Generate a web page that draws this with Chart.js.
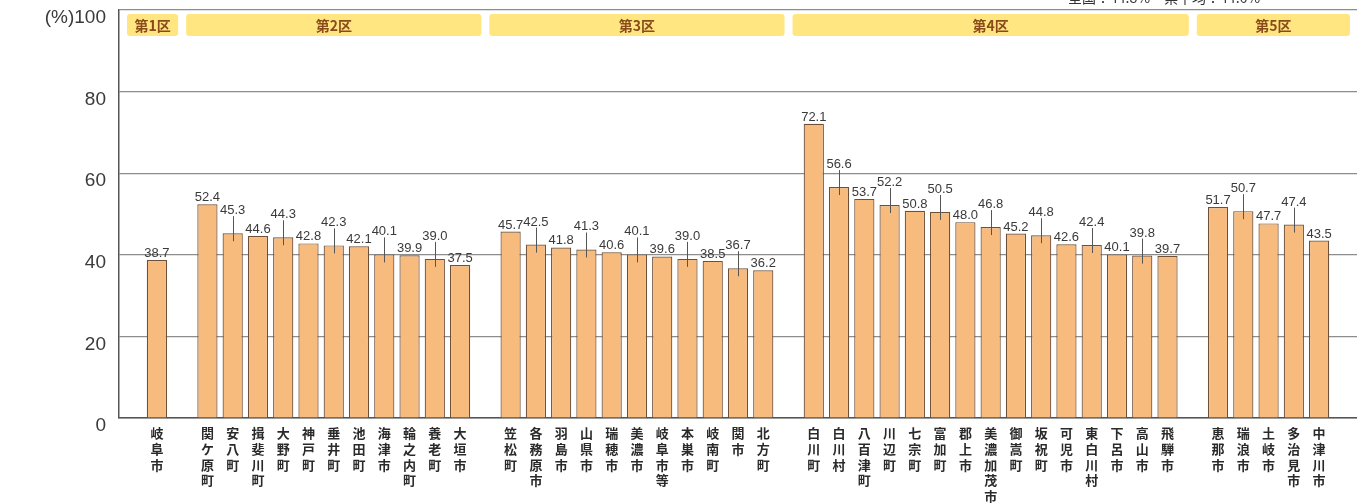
<!DOCTYPE html>
<html><head><meta charset="utf-8">
<script src="https://cdn.jsdelivr.net/npm/chart.js@4.4.1/dist/chart.umd.min.js"></script>
<style>html,body{margin:0;padding:0;background:#fff;}#wrap{width:1357px;height:503px;position:relative;}</style>
</head><body><div id="wrap"><canvas id="c" width="1357" height="503"></canvas></div>
<script>
const districtNames = ['第1区','第2区','第3区','第4区','第5区'];
const d1Names = ['岐阜市'];
const d1Values = [38.7];
const d2Names = ['関ケ原町','安八町','揖斐川町','大野町','神戸町','垂井町','池田町','海津市','輪之内町','養老町','大垣市'];
const d2Values = [52.4,45.3,44.6,44.3,42.8,42.3,42.1,40.1,39.9,39.0,37.5];
const d3Names = ['笠松町','各務原市','羽島市','山県市','瑞穂市','美濃市','岐阜市等','本巣市','岐南町','関市','北方町'];
const d3Values = [45.7,42.5,41.8,41.3,40.6,40.1,39.6,39.0,38.5,36.7,36.2];
const d4Names = ['白川町','白川村','八百津町','川辺町','七宗町','富加町','郡上市','美濃加茂市','御嵩町','坂祝町','可児市','東白川村','下呂市','高山市','飛騨市'];
const d4Values = [72.1,56.6,53.7,52.2,50.8,50.5,48.0,46.8,45.2,44.8,42.6,42.4,40.1,39.8,39.7];
const d5Names = ['恵那市','瑞浪市','土岐市','多治見市','中津川市'];
const d5Values = [51.7,50.7,47.7,47.4,43.5];
const yTicks = [0,20,40,60,80,100];
const topNote = '全国：44.8%　県平均：44.6%';

// build combined arrays (empty slot before each district)
const groupNames = [d1Names,d2Names,d3Names,d4Names,d5Names];
const groupValues = [d1Values,d2Values,d3Values,d4Values,d5Values];
const categories = [], values = [], idxInGroup = [];
const groupRanges = [];
groupNames.forEach((names,g)=>{
  categories.push(''); values.push(null); idxInGroup.push(-1);
  const start = categories.length;
  names.forEach((n,i)=>{categories.push(n); values.push(groupValues[g][i]); idxInGroup.push(i);});
  groupRanges.push([start, categories.length-1]);
});
categories.push(''); values.push(null); idxInGroup.push(-1);

const numFont = '"Liberation Sans", Arial, sans-serif';
const cjkFont = '"Noto Sans CJK JP", sans-serif';

const decor = {
  id:'decor',
  afterDatasetsDraw(chart){
    const {ctx, chartArea:ca, scales:{x,y}} = chart;
    const meta = chart.getDatasetMeta(0);
    ctx.save();
    ctx.font = '13px '+numFont;
    ctx.fillStyle = '#3a3a3a';
    ctx.textAlign = 'center';
    ctx.textBaseline = 'alphabetic';
    values.forEach((v,i)=>{
      if(v===null) return;
      const el = meta.data[i];
      const raised = idxInGroup[i] % 2 === 1;
      const top = el.y;
      const base = raised ? top - 19 : top - 3;
      ctx.fillText(v.toFixed(1), el.x, base);
      if(raised){
        ctx.strokeStyle = '#555';
        ctx.lineWidth = 1;
        ctx.beginPath();
        ctx.moveTo(Math.round(el.x)+0.5, base+2);
        ctx.lineTo(Math.round(el.x)+0.5, top+8);
        ctx.stroke();
      }
    });
    groupRanges.forEach((r,g)=>{
      const left = g===0 ? ca.left+8 : x.getPixelForValue(r[0]-1)+4;
      const right = g===groupRanges.length-1 ? ca.right-7 : x.getPixelForValue(r[1]+1)-4;
      const t = 14, h = 22;
      ctx.fillStyle = '#ffe680';
      ctx.beginPath();
      if(ctx.roundRect) ctx.roundRect(left,t,right-left,h,3); else ctx.rect(left,t,right-left,h);
      ctx.fill();
      ctx.fillStyle = '#8a4b1c';
      ctx.font = 'bold 14px '+cjkFont;
      ctx.textAlign = 'center';
      ctx.textBaseline = 'middle';
      ctx.fillText(districtNames[g], (left+right)/2, t+h/2+1);
    });
    ctx.restore();
  },
  afterDraw(chart){
    const {ctx} = chart;
    ctx.save();
    ctx.font = '14px '+cjkFont;
    ctx.fillStyle = '#333';
    ctx.textAlign = 'left';
    ctx.textBaseline = 'middle';
    ctx.fillText(topNote, 1068, -2);
    ctx.restore();
  }
};

new Chart(document.getElementById('c'), {
  type:'bar',
  data:{
    labels: categories.map(s=>s.split('')),
    datasets:[{
      data: values,
      backgroundColor:'#f8bb7e',
      borderColor:'#6e4f38',
      borderWidth:1.2,
      borderSkipped:'bottom',
      categoryPercentage:1,
      barPercentage:0.8
    }]
  },
  options:{
    responsive:false,
    animation:false,
    layout:{padding:{top:10,right:0,left:0,bottom:0}},
    plugins:{legend:{display:false}, tooltip:{enabled:false}},
    scales:{
      x:{
        offset:true,
        grid:{display:false, drawTicks:false},
        border:{display:true, color:'#555', width:1.5},
        ticks:{autoSkip:false, maxRotation:0, minRotation:0, padding:7,
          font:{family:cjkFont, size:13, weight:'bold', lineHeight:1.22}, color:'#2a2a2a'},
        afterFit(s){ s.height = 85; s.paddingLeft = 0; s.paddingRight = 0; }
      },
      y:{
        min:0, max:100,
        afterBuildTicks(s){ s.ticks = yTicks.map(v=>({value:v})); },
        grid:{color:'#8d8d8d', lineWidth:1.2, drawTicks:false},
        border:{display:true, color:'#555', width:1.5},
        ticks:{padding:13, labelOffset:8, font:{family:numFont, size:19}, color:'#3a3a3a',
          callback:(v)=> v===100 ? '(%)100' : String(v)},
        afterFit(s){ s.width = 119; s.paddingTop = 0; s.paddingBottom = 0; }
      }
    }
  },
  plugins:[decor]
});
</script></body></html>
